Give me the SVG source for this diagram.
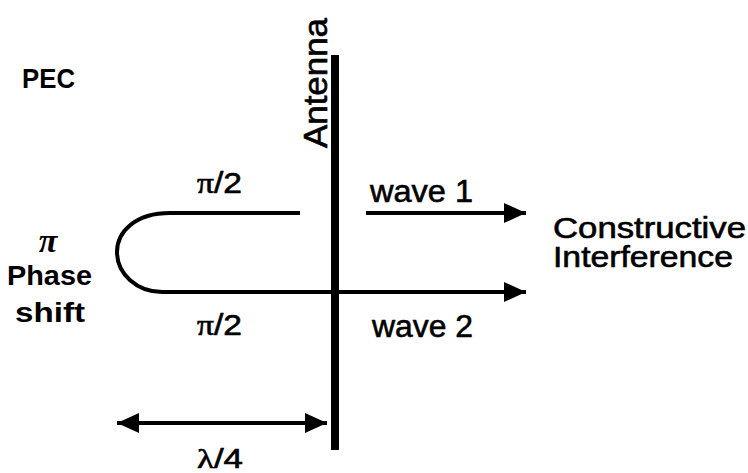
<svg xmlns="http://www.w3.org/2000/svg" width="748" height="473" viewBox="0 0 748 473">
<style>
.ln{fill:none;stroke:#000;stroke-width:4}
.t{font-family:"Liberation Sans",Arial,sans-serif;fill:#000;stroke:#000;stroke-width:0.6}
.b{font-family:"Liberation Sans",Arial,sans-serif;font-weight:bold;fill:#000}
.pi{font-family:"Liberation Serif","Times New Roman",serif}
</style>
<defs>
<marker id="ah" viewBox="0 0 22 20" refX="22" refY="10" markerWidth="22" markerHeight="20" markerUnits="userSpaceOnUse" orient="auto-start-reverse">
<path d="M0,0 L22,10 L0,20 Z" fill="#000"/>
</marker>
</defs>
<rect width="748" height="473" fill="#fff"/>
<g id="connectors">
<path class="ln" d="M300,213 L170,213 C135,213 117,232 117,252 C117,274 137,292 162,292 L526,292" marker-end="url(#ah)"/>
<line class="ln" x1="366" y1="213" x2="526" y2="213" marker-end="url(#ah)"/>
<line class="ln" x1="117" y1="423" x2="327" y2="423" marker-start="url(#ah)" marker-end="url(#ah)"/>
</g>
<g id="antenna">
<rect x="331" y="55" width="8" height="395" fill="#000"/>
<text class="t" font-size="33" transform="translate(327,148) rotate(-90)" textLength="130" lengthAdjust="spacingAndGlyphs">Antenna</text>
</g>
<g id="pec">
<text class="b" x="22" y="88" font-size="28" textLength="53" lengthAdjust="spacingAndGlyphs">PEC</text>
</g>
<g id="phase-shift">
<text x="48" y="252" font-size="34" font-style="italic" text-anchor="middle" font-family="'Liberation Serif','DejaVu Serif',serif" font-weight="bold">π</text>
<text class="b" x="7" y="285" font-size="28" textLength="85" lengthAdjust="spacingAndGlyphs">Phase</text>
<text class="b" x="15" y="322" font-size="28" textLength="70" lengthAdjust="spacingAndGlyphs">shift</text>
</g>
<g id="labels">
<text class="t" x="197" y="193" font-size="29" textLength="45" lengthAdjust="spacingAndGlyphs"><tspan class="pi">π</tspan>/2</text>
<text class="t" x="197" y="335" font-size="29" textLength="45" lengthAdjust="spacingAndGlyphs"><tspan class="pi">π</tspan>/2</text>
<text class="t" x="370" y="202" font-size="31" textLength="103" lengthAdjust="spacingAndGlyphs">wave 1</text>
<text class="t" x="372" y="337" font-size="31" textLength="101" lengthAdjust="spacingAndGlyphs">wave 2</text>
<text class="t" x="197" y="468" font-size="27" textLength="46" lengthAdjust="spacingAndGlyphs"><tspan class="pi">λ</tspan>/4</text>
</g>
<g id="result">
<text class="t" x="553" y="238" font-size="29" textLength="193" lengthAdjust="spacingAndGlyphs">Constructive</text>
<text class="t" x="553" y="267" font-size="29" textLength="180" lengthAdjust="spacingAndGlyphs">Interference</text>
</g>
</svg>
